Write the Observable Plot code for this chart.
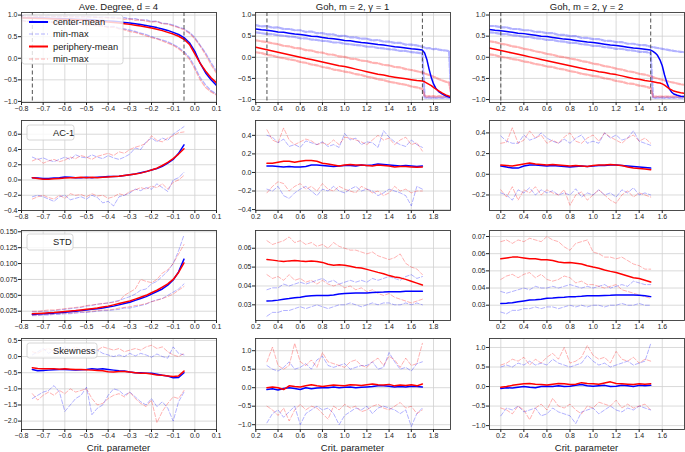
<!DOCTYPE html>
<html><head><meta charset="utf-8">
<script src="https://cdn.jsdelivr.net/npm/d3@7"></script>
<script src="https://cdn.jsdelivr.net/npm/@observablehq/plot@0.6"></script>
<style>
body{margin:0;background:#fff;}
#c{position:relative;width:685px;height:452px;overflow:hidden;font-family:"Liberation Sans",Arial,sans-serif;background:#fff;}
.t{position:absolute;font-size:9.5px;color:#1a1a1a;white-space:nowrap;transform:translate(-50%,-50%);}
.p{position:absolute;}
</style></head><body><div id="c"></div>
<script>
// ---------- titles / labels ----------
const titles = ["Ave. Degree, d = 4", "Goh, m = 2, \u03b3 = 1", "Goh, m = 2, \u03b3 = 2"];
const xLabel = "Crit. parameter";
const rowLegends = [null, "AC-1", "STD", "Skewness"];
const legendLabels = ["center-mean", "min-max", "periphery-mean", "min-max"];

// ---------- x grids ----------
const X_AD_FULL = [-0.8,-0.775,-0.75,-0.725,-0.7,-0.675,-0.65,-0.625,-0.6,-0.575,-0.55,-0.525,-0.5,-0.475,-0.45,-0.425,-0.4,-0.375,-0.35,-0.325,-0.3,-0.275,-0.25,-0.225,-0.2,-0.175,-0.15,-0.125,-0.1,-0.075,-0.05,-0.025,0,0.025,0.05,0.075,0.1];
const X_AD = [-0.75,-0.725,-0.7,-0.675,-0.65,-0.625,-0.6,-0.575,-0.55,-0.525,-0.5,-0.475,-0.45,-0.425,-0.4,-0.375,-0.35,-0.325,-0.3,-0.275,-0.25,-0.225,-0.2,-0.175,-0.15,-0.125,-0.1,-0.075,-0.05];
const X_G1_FULL = [0.2,0.25,0.3,0.35,0.4,0.45,0.5,0.55,0.6,0.65,0.7,0.75,0.8,0.85,0.9,0.95,1.0,1.05,1.1,1.15,1.2,1.25,1.3,1.35,1.4,1.45,1.5,1.55,1.6,1.65,1.7,1.72,1.74,1.76,1.78,1.8,1.82,1.85,1.88,1.91,1.94,1.96];
const X_G1 = [0.3,0.35,0.4,0.45,0.5,0.55,0.6,0.65,0.7,0.75,0.8,0.85,0.9,0.95,1.0,1.05,1.1,1.15,1.2,1.25,1.3,1.35,1.4,1.45,1.5,1.55,1.6,1.65,1.7];
const X_G2_FULL = [0.1,0.15,0.2,0.25,0.3,0.35,0.4,0.45,0.5,0.55,0.6,0.65,0.7,0.75,0.8,0.85,0.9,0.95,1.0,1.05,1.1,1.15,1.2,1.25,1.3,1.35,1.4,1.45,1.5,1.52,1.54,1.56,1.58,1.6,1.62,1.64,1.66,1.68,1.7,1.73,1.76,1.79];
const X_G2 = [0.2,0.25,0.3,0.35,0.4,0.45,0.5,0.55,0.6,0.65,0.7,0.75,0.8,0.85,0.9,0.95,1.0,1.05,1.1,1.15,1.2,1.25,1.3,1.35,1.4,1.45,1.5];

// ---------- Row 1: order parameter ----------
const AD_cMean = [0.94,0.94,0.935,0.93,0.93,0.925,0.92,0.92,0.915,0.91,0.905,0.9,0.895,0.89,0.88,0.875,0.865,0.855,0.845,0.83,0.815,0.8,0.78,0.76,0.735,0.71,0.68,0.645,0.6,0.55,0.48,0.36,0.16,-0.12,-0.34,-0.5,-0.63];
const AD_pMean = [0.93,0.93,0.925,0.92,0.92,0.915,0.91,0.905,0.9,0.895,0.89,0.885,0.88,0.87,0.86,0.85,0.84,0.83,0.815,0.8,0.785,0.765,0.745,0.725,0.7,0.67,0.64,0.6,0.56,0.51,0.44,0.32,0.1,-0.12,-0.3,-0.45,-0.57];
const AD_cMax = [0.99,0.98,0.99,0.97,0.98,0.99,0.97,0.98,0.97,0.98,0.96,0.97,0.96,0.97,0.95,0.96,0.94,0.95,0.93,0.94,0.91,0.92,0.88,0.89,0.85,0.86,0.81,0.8,0.77,0.72,0.68,0.6,0.48,0.3,0.12,-0.1,-0.3];
const AD_pMax = [0.97,0.98,0.96,0.97,0.98,0.96,0.97,0.96,0.97,0.95,0.96,0.95,0.96,0.94,0.95,0.93,0.94,0.92,0.93,0.9,0.91,0.88,0.89,0.86,0.84,0.85,0.8,0.79,0.75,0.71,0.66,0.58,0.45,0.28,0.08,-0.15,-0.35];
const AD_cMin = [0.88,0.86,0.87,0.85,0.86,0.84,0.85,0.83,0.84,0.82,0.8,0.81,0.79,0.77,0.78,0.75,0.73,0.74,0.7,0.68,0.65,0.62,0.58,0.55,0.5,0.46,0.42,0.38,0.32,0.25,0.15,0.02,-0.2,-0.45,-0.62,-0.75,-0.83];
const AD_pMin = [0.87,0.85,0.86,0.84,0.83,0.85,0.82,0.83,0.81,0.8,0.81,0.78,0.77,0.78,0.74,0.75,0.71,0.72,0.68,0.66,0.62,0.6,0.56,0.52,0.48,0.45,0.4,0.35,0.3,0.22,0.12,-0.02,-0.25,-0.5,-0.68,-0.78,-0.85];

const G1_cMean = [0.67,0.65,0.64,0.62,0.6,0.59,0.57,0.55,0.54,0.52,0.5,0.49,0.47,0.45,0.44,0.42,0.4,0.39,0.37,0.35,0.34,0.32,0.3,0.29,0.27,0.25,0.24,0.22,0.2,0.19,0.17,0.1,-0.05,-0.28,-0.48,-0.63,-0.73,-0.82,-0.87,-0.91,-0.94,-0.96];
const G1_pMean = [0.24,0.21,0.18,0.15,0.12,0.09,0.06,0.03,0.0,-0.03,-0.05,-0.08,-0.11,-0.14,-0.17,-0.2,-0.22,-0.25,-0.28,-0.31,-0.34,-0.37,-0.4,-0.42,-0.45,-0.47,-0.49,-0.51,-0.53,-0.55,-0.56,-0.58,-0.61,-0.64,-0.67,-0.71,-0.75,-0.8,-0.85,-0.89,-0.92,-0.94];
const G1_cMax = [0.76,0.73,0.74,0.7,0.71,0.67,0.67,0.64,0.64,0.6,0.61,0.57,0.57,0.54,0.54,0.5,0.51,0.47,0.47,0.44,0.44,0.4,0.41,0.37,0.37,0.34,0.34,0.3,0.3,0.28,0.25,0.23,0.21,0.22,0.2,0.19,0.2,0.18,0.17,0.16,0.15,-0.97];
const G1_cMin = [0.59,0.57,0.55,0.55,0.52,0.51,0.49,0.48,0.45,0.45,0.42,0.41,0.39,0.38,0.35,0.35,0.32,0.31,0.29,0.28,0.25,0.25,0.22,0.21,0.19,0.18,0.15,0.15,0.12,0.11,0.09,-0.95,-0.96,-0.95,-0.96,-0.95,-0.96,-0.95,-0.96,-0.95,-0.96,-0.96];
const G1_pMax = [0.4,0.38,0.36,0.33,0.31,0.27,0.26,0.22,0.21,0.17,0.16,0.12,0.11,0.07,0.06,0.02,0.01,-0.03,-0.04,-0.08,-0.09,-0.13,-0.14,-0.18,-0.19,-0.23,-0.24,-0.28,-0.3,-0.33,-0.36,-0.38,-0.4,-0.42,-0.44,-0.46,-0.48,-0.52,-0.55,-0.58,-0.6,-0.88];
const G1_pMin = [0.12,0.1,0.06,0.04,0.0,-0.02,-0.05,-0.07,-0.11,-0.13,-0.17,-0.19,-0.23,-0.25,-0.29,-0.31,-0.34,-0.36,-0.4,-0.42,-0.46,-0.48,-0.52,-0.54,-0.58,-0.6,-0.63,-0.65,-0.69,-0.71,-0.75,-0.92,-0.93,-0.92,-0.93,-0.92,-0.93,-0.92,-0.93,-0.92,-0.93,-0.93];

const G2_cMean = [0.66,0.64,0.63,0.61,0.59,0.57,0.56,0.54,0.52,0.5,0.49,0.47,0.45,0.43,0.42,0.4,0.38,0.36,0.35,0.33,0.31,0.29,0.28,0.26,0.24,0.22,0.21,0.19,0.17,0.14,0.1,0.04,-0.06,-0.2,-0.42,-0.6,-0.74,-0.82,-0.87,-0.9,-0.92,-0.93];
const G2_pMean = [0.22,0.19,0.16,0.13,0.1,0.07,0.04,0.01,-0.02,-0.05,-0.08,-0.11,-0.14,-0.17,-0.2,-0.23,-0.26,-0.29,-0.31,-0.34,-0.36,-0.39,-0.41,-0.44,-0.47,-0.5,-0.52,-0.55,-0.57,-0.58,-0.59,-0.6,-0.61,-0.63,-0.66,-0.7,-0.74,-0.77,-0.8,-0.82,-0.84,-0.85];
const G2_cMax = [0.74,0.74,0.71,0.71,0.67,0.67,0.64,0.64,0.6,0.6,0.57,0.57,0.53,0.53,0.5,0.5,0.46,0.46,0.43,0.43,0.39,0.39,0.36,0.36,0.32,0.32,0.29,0.29,0.25,0.24,0.23,0.22,0.21,0.2,0.19,0.18,0.17,0.16,0.15,0.14,0.13,0.12];
const G2_cMin = [0.59,0.58,0.55,0.55,0.52,0.51,0.48,0.48,0.45,0.44,0.41,0.41,0.38,0.37,0.34,0.34,0.31,0.3,0.27,0.27,0.24,0.23,0.2,0.2,0.17,0.16,0.13,0.13,0.1,-0.95,-0.96,-0.95,-0.96,-0.95,-0.96,-0.95,-0.96,-0.95,-0.96,-0.95,-0.96,-0.96];
const G2_pMax = [0.38,0.36,0.32,0.3,0.26,0.24,0.2,0.18,0.14,0.12,0.08,0.06,0.02,0.0,-0.03,-0.05,-0.09,-0.11,-0.15,-0.17,-0.21,-0.23,-0.27,-0.29,-0.33,-0.35,-0.39,-0.41,-0.45,-0.47,-0.49,-0.5,-0.52,-0.53,-0.55,-0.56,-0.58,-0.59,-0.6,-0.62,-0.64,-0.65];
const G2_pMin = [0.07,0.05,0.01,-0.01,-0.04,-0.06,-0.1,-0.12,-0.16,-0.18,-0.22,-0.23,-0.27,-0.29,-0.33,-0.35,-0.39,-0.41,-0.44,-0.46,-0.5,-0.52,-0.56,-0.58,-0.62,-0.63,-0.67,-0.69,-0.73,-0.93,-0.93,-0.93,-0.93,-0.93,-0.93,-0.93,-0.93,-0.93,-0.93,-0.93,-0.93,-0.93];

// ---------- Row 2: AC-1 ----------
const AC_AD_cMean = [0.03,0.025,0.02,0.02,0.025,0.03,0.04,0.035,0.03,0.03,0.035,0.03,0.035,0.04,0.045,0.045,0.05,0.06,0.07,0.08,0.095,0.11,0.13,0.15,0.18,0.22,0.27,0.35,0.46];
const AC_AD_pMean = [0.03,0.02,0.01,0.01,0.015,0.02,0.025,0.03,0.03,0.035,0.03,0.035,0.03,0.035,0.04,0.045,0.05,0.06,0.07,0.08,0.09,0.11,0.13,0.155,0.19,0.23,0.28,0.34,0.41];
const AC_AD_cMax = [0.3,0.27,0.29,0.26,0.24,0.27,0.3,0.27,0.33,0.3,0.29,0.33,0.3,0.28,0.32,0.29,0.27,0.3,0.34,0.42,0.4,0.5,0.55,0.5,0.55,0.52,0.6,0.65,0.7];
const AC_AD_pMax = [0.25,0.28,0.22,0.25,0.27,0.24,0.26,0.3,0.28,0.32,0.3,0.27,0.31,0.33,0.35,0.32,0.37,0.35,0.4,0.43,0.45,0.48,0.58,0.52,0.5,0.55,0.58,0.62,0.63];
const AC_AD_cMin = [-0.22,-0.2,-0.22,-0.25,-0.28,-0.22,-0.2,-0.26,-0.24,-0.22,-0.25,-0.2,-0.23,-0.3,-0.28,-0.34,-0.22,-0.2,-0.17,-0.12,-0.14,-0.1,-0.12,-0.05,-0.1,-0.15,0.0,0.03,0.1];
const AC_AD_pMin = [-0.25,-0.22,-0.2,-0.23,-0.25,-0.2,-0.24,-0.18,-0.2,-0.19,-0.22,-0.18,-0.21,-0.2,-0.24,-0.22,-0.18,-0.2,-0.15,-0.13,-0.1,-0.12,-0.08,-0.1,-0.05,-0.12,-0.03,0.0,0.06];

const AC_G1_cMean = [0.07,0.07,0.065,0.06,0.065,0.06,0.06,0.065,0.08,0.08,0.075,0.07,0.065,0.07,0.075,0.075,0.07,0.08,0.075,0.08,0.09,0.085,0.08,0.075,0.07,0.075,0.07,0.065,0.07];
const AC_G1_pMean = [0.1,0.1,0.11,0.12,0.12,0.11,0.12,0.13,0.13,0.12,0.1,0.09,0.08,0.07,0.08,0.085,0.08,0.08,0.075,0.07,0.08,0.075,0.07,0.06,0.065,0.065,0.06,0.055,0.06];
const AC_G1_cMax = [0.4,0.38,0.32,0.36,0.28,0.3,0.27,0.34,0.32,0.3,0.33,0.28,0.3,0.27,0.42,0.35,0.37,0.3,0.33,0.32,0.27,0.45,0.38,0.33,0.3,0.28,0.35,0.3,0.27];
const AC_G1_pMax = [0.46,0.35,0.32,0.48,0.35,0.3,0.33,0.36,0.34,0.3,0.32,0.3,0.35,0.3,0.38,0.37,0.35,0.33,0.3,0.35,0.4,0.35,0.37,0.3,0.35,0.38,0.3,0.32,0.23];
const AC_G1_cMin = [-0.18,-0.2,-0.15,-0.25,-0.28,-0.22,-0.18,-0.15,-0.2,-0.25,-0.18,-0.2,-0.15,-0.2,-0.22,-0.18,-0.15,-0.2,-0.18,-0.2,-0.25,-0.22,-0.18,-0.2,-0.22,-0.25,-0.36,-0.15,-0.18];
const AC_G1_pMin = [-0.22,-0.15,-0.1,-0.12,-0.2,-0.15,-0.12,-0.18,-0.15,-0.2,-0.12,-0.18,-0.2,-0.15,-0.18,-0.2,-0.22,-0.15,-0.18,-0.22,-0.2,-0.25,-0.22,-0.15,-0.2,-0.18,-0.22,-0.2,-0.2];

const AC_G2_cMean = [0.08,0.07,0.06,0.06,0.08,0.09,0.09,0.085,0.08,0.085,0.08,0.075,0.07,0.075,0.08,0.075,0.08,0.085,0.085,0.09,0.09,0.085,0.08,0.075,0.07,0.065,0.06];
const AC_G2_pMean = [0.09,0.085,0.08,0.09,0.1,0.11,0.1,0.095,0.09,0.095,0.09,0.085,0.08,0.085,0.08,0.075,0.085,0.09,0.09,0.095,0.09,0.085,0.07,0.06,0.055,0.05,0.045];
const AC_G2_cMax = [0.37,0.32,0.3,0.3,0.38,0.33,0.35,0.4,0.35,0.32,0.3,0.34,0.3,0.35,0.38,0.3,0.32,0.3,0.4,0.35,0.38,0.33,0.35,0.42,0.32,0.3,0.28];
const AC_G2_pMax = [0.3,0.31,0.45,0.3,0.33,0.42,0.35,0.38,0.3,0.33,0.3,0.36,0.4,0.32,0.3,0.35,0.38,0.32,0.4,0.36,0.33,0.3,0.35,0.38,0.32,0.35,0.3];
const AC_G2_cMin = [-0.18,-0.2,-0.25,-0.15,-0.18,-0.13,-0.2,-0.15,-0.18,-0.16,-0.2,-0.18,-0.2,-0.14,-0.22,-0.18,-0.2,-0.15,-0.2,-0.18,-0.22,-0.15,-0.18,-0.13,-0.2,-0.18,-0.2];
const AC_G2_pMin = [-0.15,-0.22,-0.12,-0.25,-0.15,-0.18,-0.12,-0.2,-0.15,-0.18,-0.2,-0.15,-0.3,-0.2,-0.17,-0.25,-0.2,-0.15,-0.2,-0.25,-0.28,-0.2,-0.16,-0.22,-0.18,-0.2,-0.22];

// ---------- Row 3: STD ----------
const SD_AD_cMean = [0.020,0.0205,0.021,0.0215,0.022,0.0227,0.0235,0.0242,0.025,0.026,0.027,0.028,0.029,0.030,0.0315,0.033,0.035,0.037,0.039,0.042,0.045,0.048,0.052,0.056,0.060,0.066,0.074,0.087,0.107];
const SD_AD_pMean = [0.021,0.0215,0.022,0.0225,0.023,0.0237,0.0245,0.0252,0.026,0.027,0.028,0.029,0.030,0.0315,0.033,0.035,0.037,0.039,0.041,0.044,0.047,0.050,0.054,0.058,0.063,0.068,0.075,0.086,0.101];
const SD_AD_cMax = [0.024,0.024,0.025,0.025,0.026,0.027,0.028,0.029,0.03,0.031,0.033,0.034,0.036,0.037,0.038,0.04,0.042,0.045,0.048,0.052,0.058,0.06,0.068,0.072,0.08,0.088,0.1,0.12,0.145];
const SD_AD_pMax = [0.025,0.025,0.026,0.027,0.027,0.028,0.029,0.03,0.031,0.032,0.034,0.035,0.036,0.037,0.038,0.039,0.041,0.05,0.055,0.06,0.075,0.072,0.07,0.075,0.085,0.09,0.1,0.115,0.13];
const SD_AD_cMin = [0.018,0.018,0.019,0.019,0.02,0.02,0.021,0.021,0.022,0.023,0.023,0.024,0.025,0.026,0.026,0.027,0.028,0.03,0.03,0.032,0.034,0.036,0.04,0.043,0.045,0.05,0.055,0.06,0.068];
const SD_AD_pMin = [0.019,0.019,0.02,0.02,0.021,0.021,0.022,0.022,0.023,0.024,0.024,0.025,0.026,0.027,0.027,0.028,0.03,0.031,0.032,0.034,0.035,0.037,0.04,0.042,0.045,0.048,0.052,0.058,0.064];

const SD_G1_cMean = [0.032,0.0322,0.0325,0.033,0.0333,0.0337,0.034,0.0345,0.0348,0.035,0.035,0.035,0.0352,0.0357,0.036,0.0362,0.0363,0.0363,0.0363,0.0365,0.0367,0.0368,0.037,0.037,0.037,0.0372,0.0372,0.0372,0.0372];
const SD_G1_pMean = [0.054,0.0537,0.0533,0.053,0.0533,0.0535,0.0532,0.053,0.0532,0.053,0.0525,0.0515,0.051,0.0512,0.051,0.0505,0.0498,0.0495,0.0488,0.048,0.0472,0.0465,0.0455,0.0448,0.0443,0.0435,0.0425,0.0415,0.0405];
const SD_G1_cMax = [0.038,0.039,0.039,0.041,0.04,0.041,0.042,0.041,0.042,0.043,0.044,0.042,0.043,0.041,0.042,0.043,0.042,0.043,0.042,0.044,0.043,0.044,0.045,0.044,0.043,0.045,0.046,0.044,0.045];
const SD_G1_pMax = [0.064,0.062,0.063,0.064,0.066,0.063,0.064,0.062,0.063,0.061,0.062,0.06,0.063,0.061,0.06,0.059,0.059,0.058,0.057,0.058,0.056,0.055,0.054,0.055,0.057,0.052,0.05,0.049,0.046];
const SD_G1_cMin = [0.024,0.026,0.026,0.027,0.027,0.028,0.029,0.028,0.029,0.03,0.029,0.028,0.029,0.03,0.03,0.031,0.03,0.029,0.03,0.031,0.03,0.031,0.031,0.03,0.03,0.031,0.03,0.031,0.03];
const SD_G1_pMin = [0.046,0.044,0.045,0.043,0.046,0.043,0.044,0.042,0.043,0.041,0.043,0.041,0.04,0.041,0.039,0.04,0.038,0.039,0.037,0.038,0.036,0.035,0.036,0.034,0.033,0.032,0.031,0.032,0.033];

const SD_G2_cMean = [0.031,0.0312,0.0315,0.032,0.0325,0.033,0.0332,0.0335,0.034,0.0342,0.0345,0.0347,0.035,0.035,0.0352,0.0355,0.0355,0.0355,0.0357,0.0358,0.036,0.036,0.036,0.036,0.0358,0.0355,0.035];
const SD_G2_pMean = [0.057,0.0575,0.058,0.058,0.0575,0.057,0.057,0.0565,0.0565,0.056,0.0552,0.0547,0.0548,0.0545,0.054,0.053,0.0522,0.0515,0.0505,0.0497,0.049,0.048,0.047,0.046,0.0455,0.0445,0.0435];
const SD_G2_cMax = [0.038,0.037,0.038,0.039,0.04,0.039,0.041,0.04,0.04,0.041,0.04,0.041,0.042,0.041,0.04,0.041,0.04,0.041,0.042,0.04,0.041,0.042,0.041,0.044,0.043,0.042,0.042];
const SD_G2_pMax = [0.067,0.068,0.066,0.068,0.067,0.069,0.068,0.067,0.07,0.068,0.067,0.064,0.062,0.066,0.067,0.068,0.061,0.06,0.058,0.058,0.057,0.058,0.056,0.054,0.053,0.051,0.051];
const SD_G2_cMin = [0.026,0.025,0.027,0.027,0.028,0.028,0.029,0.028,0.029,0.029,0.028,0.029,0.03,0.029,0.03,0.029,0.03,0.03,0.029,0.03,0.03,0.031,0.03,0.03,0.031,0.03,0.03];
const SD_G2_pMin = [0.045,0.047,0.048,0.046,0.048,0.049,0.046,0.048,0.045,0.044,0.045,0.047,0.046,0.043,0.044,0.042,0.042,0.041,0.04,0.041,0.042,0.039,0.038,0.037,0.036,0.035,0.034];

// ---------- Row 4: Skewness ----------
const SK_AD_cMean = [-0.4,-0.44,-0.43,-0.42,-0.41,-0.4,-0.4,-0.41,-0.42,-0.41,-0.4,-0.38,-0.39,-0.38,-0.4,-0.42,-0.44,-0.45,-0.48,-0.5,-0.5,-0.52,-0.52,-0.55,-0.58,-0.6,-0.66,-0.65,-0.5];
const SK_AD_pMean = [-0.35,-0.37,-0.38,-0.38,-0.38,-0.39,-0.38,-0.39,-0.4,-0.4,-0.41,-0.42,-0.43,-0.44,-0.47,-0.48,-0.46,-0.46,-0.48,-0.5,-0.52,-0.52,-0.54,-0.57,-0.58,-0.6,-0.62,-0.6,-0.45];
const SK_AD_cMax = [0.05,0.15,0.25,0.1,0.2,0.15,0.3,0.2,0.15,0.2,0.1,0.15,0.2,0.1,0.05,0.0,0.05,0.0,0.1,0.02,0.1,0.05,-0.02,0.08,0.0,-0.05,0.3,0.1,0.05];
const SK_AD_pMax = [0.15,0.1,0.2,0.25,0.15,0.2,0.25,0.2,0.3,0.2,0.25,0.15,0.2,0.3,0.25,0.2,0.25,0.15,0.2,0.25,0.2,0.3,0.35,0.25,0.3,0.15,0.05,0.0,0.1];
const SK_AD_cMin = [-1.3,-1.2,-1.1,-1.05,-0.9,-1.1,-1.7,-1.5,-1.3,-1.2,-0.95,-1.8,-1.6,-1.5,-1.2,-1.0,-1.05,-1.2,-1.1,-1.25,-1.4,-1.5,-1.3,-1.55,-1.4,-1.6,-2.0,-1.4,-1.1];
const SK_AD_pMin = [-1.15,-1.35,-1.2,-1.1,-1.2,-1.05,-1.15,-1.0,-1.1,-1.05,-1.0,-1.3,-1.5,-1.45,-1.3,-1.2,-1.15,-1.25,-1.1,-1.3,-1.45,-1.55,-1.35,-2.05,-1.7,-1.45,-1.25,-1.3,-1.05];

const SK_G1_cMean = [-0.05,-0.03,-0.06,-0.02,0.0,-0.02,-0.05,0.0,-0.03,-0.01,0.0,0.0,0.02,0.0,0.01,0.02,0.0,0.01,0.02,0.03,0.05,0.05,0.04,0.02,0.03,0.02,0.04,0.03,0.02];
const SK_G1_pMean = [0.0,0.02,0.0,-0.05,0.05,0.03,0.02,0.05,0.08,0.05,0.03,0.05,0.07,0.06,0.05,0.08,0.07,0.06,0.08,0.1,0.08,0.07,0.09,0.05,0.07,0.06,0.08,0.05,0.1];
const SK_G1_cMax = [0.6,0.5,0.45,0.55,0.7,0.5,0.55,0.65,0.5,0.75,0.85,0.6,0.55,0.6,0.65,0.5,0.55,0.6,0.6,0.7,0.5,0.55,0.95,0.7,0.5,0.55,0.45,0.65,0.7];
const SK_G1_pMax = [0.7,1.1,0.6,0.5,0.6,1.2,0.7,0.6,0.75,0.55,0.95,0.7,0.65,0.6,0.55,0.7,0.75,0.6,0.55,0.7,0.8,0.6,0.85,0.75,0.55,0.8,0.6,0.65,1.2];
const SK_G1_cMin = [-0.95,-0.7,-0.6,-0.8,-0.65,-0.5,-1.0,-0.7,-0.6,-0.5,-0.6,-0.55,-0.7,-1.0,-0.75,-0.65,-0.55,-0.6,-0.5,-0.7,-0.55,-0.5,-0.55,-0.6,-0.7,-0.6,-1.05,-0.7,-0.55];
const SK_G1_pMin = [-0.5,-0.6,-0.75,-0.55,-0.9,-0.6,-0.45,-0.6,-0.5,-0.55,-0.7,-0.85,-0.5,-0.6,-0.45,-0.55,-0.5,-0.65,-0.6,-0.5,-0.45,-0.55,-0.6,-0.5,-0.4,-0.55,-0.5,-0.7,-0.6];

const SK_G2_cMean = [-0.05,-0.03,-0.04,-0.02,0.0,-0.02,-0.03,0.0,0.01,0.0,0.02,0.0,0.01,0.03,0.05,0.02,0.01,0.02,0.03,0.0,0.01,0.03,0.02,0.0,0.03,0.02,0.03];
const SK_G2_pMean = [-0.02,0.0,0.03,0.05,0.07,0.08,0.06,0.05,0.04,0.06,0.08,0.07,0.05,0.06,0.1,0.08,0.07,0.06,0.09,0.12,0.08,0.07,0.06,0.05,0.07,0.06,0.07];
const SK_G2_cMax = [0.5,0.55,0.5,0.6,0.55,0.65,0.55,0.6,0.55,0.7,0.6,0.55,0.5,0.55,0.6,0.8,0.65,0.55,0.6,0.5,0.55,0.6,0.65,0.55,0.6,0.65,1.1];
const SK_G2_pMax = [0.55,0.6,0.7,0.65,0.75,0.55,0.7,0.6,0.75,0.85,0.7,1.0,0.6,0.65,0.75,1.05,0.8,0.7,0.75,0.6,0.9,0.7,0.65,0.75,0.6,0.7,0.65];
const SK_G2_cMin = [-0.75,-0.55,-0.6,-0.5,-0.65,-0.6,-0.55,-0.75,-0.7,-0.55,-0.65,-0.7,-0.75,-0.95,-0.65,-0.6,-0.55,-0.7,-0.6,-0.5,-0.6,-0.65,-0.55,-0.6,-0.5,-0.55,-0.6];
const SK_G2_pMin = [-0.55,-0.6,-0.7,-0.5,-0.6,-0.85,-0.55,-0.45,-0.6,-0.3,-0.5,-0.55,-0.45,-0.6,-0.7,-0.5,-0.55,-0.4,-0.45,-0.5,-0.35,-0.55,-0.45,-0.55,-0.5,-0.45,-0.6];

// ---------- ticks ----------
const XT_AD = [-0.8,-0.7,-0.6,-0.5,-0.4,-0.3,-0.2,-0.1,0.0,0.1];
const XT_G1 = [0.2,0.4,0.6,0.8,1.0,1.2,1.4,1.6,1.8];
const XT_G2 = [0.2,0.4,0.6,0.8,1.0,1.2,1.4,1.6];
const YT_OP = [-1.0,-0.5,0.0,0.5,1.0];
const YT_AC = [[-0.4,-0.2,0.0,0.2,0.4,0.6],[-0.4,-0.2,0.0,0.2,0.4],[-0.2,0.0,0.2,0.4]];
const YT_SD = [[0.025,0.05,0.075,0.1,0.125,0.15],[0.03,0.04,0.05,0.06],[0.03,0.04,0.05,0.06,0.07]];
const YT_SK = [[-2.0,-1.5,-1.0,-0.5,0.0,0.5],[-1.0,-0.5,0.0,0.5,1.0],[-1.0,-0.5,0.0,0.5,1.0]];
const VLINES = [[-0.75,-0.05],[0.3,1.7],[0.2,1.5]];

// ---------- layout (frames in page px) ----------
const COLS = [[21,216],[255,450],[489,684]];
const ROWS = [[12,102],[120,210],[230,320],[338,429]];
const XD = [[-0.8,0.1],[0.197,1.953],[0.102,1.793]];
const YD = [
  [[-1.025,1.06],[-1.07,1.06],[-1.07,1.06]],
  [[-0.4,0.78],[-0.41,0.56],[-0.35,0.52]],
  [[0.0104,0.152],[0.0217,0.0694],[0.0211,0.0735]],
  [[-2.26,0.56],[-1.13,1.33],[-1.10,1.23]]
];

const f1 = d3.format(".1f"), f2 = d3.format(".2f"), f3 = d3.format(".3f");
const BLUE="#0000ff", RED="#ff0000";

const P = [
  [
    {x:X_AD_FULL, s:[AD_cMean,AD_cMax,AD_cMin,AD_pMean,AD_pMax,AD_pMin], yt:YT_OP, yf:f1, bw:1.3},
    {x:X_G1_FULL, s:[G1_cMean,G1_cMax,G1_cMin,G1_pMean,G1_pMax,G1_pMin], yt:YT_OP, yf:f1, bw:2.2},
    {x:X_G2_FULL, s:[G2_cMean,G2_cMax,G2_cMin,G2_pMean,G2_pMax,G2_pMin], yt:YT_OP, yf:f1, bw:2.2}
  ],
  [
    {x:X_AD, s:[AC_AD_cMean,AC_AD_cMax,AC_AD_cMin,AC_AD_pMean,AC_AD_pMax,AC_AD_pMin], yt:YT_AC[0], yf:f1, bw:1},
    {x:X_G1, s:[AC_G1_cMean,AC_G1_cMax,AC_G1_cMin,AC_G1_pMean,AC_G1_pMax,AC_G1_pMin], yt:YT_AC[1], yf:f1, bw:1},
    {x:X_G2, s:[AC_G2_cMean,AC_G2_cMax,AC_G2_cMin,AC_G2_pMean,AC_G2_pMax,AC_G2_pMin], yt:YT_AC[2], yf:f1, bw:1}
  ],
  [
    {x:X_AD, s:[SD_AD_cMean,SD_AD_cMax,SD_AD_cMin,SD_AD_pMean,SD_AD_pMax,SD_AD_pMin], yt:YT_SD[0], yf:f3, bw:1},
    {x:X_G1, s:[SD_G1_cMean,SD_G1_cMax,SD_G1_cMin,SD_G1_pMean,SD_G1_pMax,SD_G1_pMin], yt:YT_SD[1], yf:f2, bw:1},
    {x:X_G2, s:[SD_G2_cMean,SD_G2_cMax,SD_G2_cMin,SD_G2_pMean,SD_G2_pMax,SD_G2_pMin], yt:YT_SD[2], yf:f2, bw:1}
  ],
  [
    {x:X_AD, s:[SK_AD_cMean,SK_AD_cMax,SK_AD_cMin,SK_AD_pMean,SK_AD_pMax,SK_AD_pMin], yt:YT_SK[0], yf:f1, bw:1},
    {x:X_G1, s:[SK_G1_cMean,SK_G1_cMax,SK_G1_cMin,SK_G1_pMean,SK_G1_pMax,SK_G1_pMin], yt:YT_SK[1], yf:f1, bw:1},
    {x:X_G2, s:[SK_G2_cMean,SK_G2_cMax,SK_G2_cMin,SK_G2_pMean,SK_G2_pMax,SK_G2_pMin], yt:YT_SK[2], yf:f1, bw:1}
  ]
];
const XT = [XT_AD, XT_G1, XT_G2];

const C = document.getElementById("c");
const ML=40, MR=1, MT=2, MB=14;
const FONT = "Liberation Sans, Arial, sans-serif";

function lineMark(xs, ys, o){
  return Plot.line(ys, Object.assign({x:(d,i)=>xs[i], y:d=>d, clip:true, strokeLinejoin:"round"}, o));
}

for (let r=0;r<4;r++) for (let c=0;c<3;c++){
  const p = P[r][c];
  const [x0,x1] = COLS[c], [y0,y1] = ROWS[r];
  const w = x1-x0, h = y1-y0;
  const [cMean,cMax,cMin,pMean,pMax,pMin] = p.s;
  const band = {strokeWidth:p.bw, strokeOpacity:0.3, strokeDasharray:"4,2"};
  const marks = [
    Plot.gridX({ticks:XT[c], stroke:"#d0d0d0", strokeOpacity:1, strokeWidth:0.8}),
    Plot.gridY({ticks:p.yt, stroke:"#d0d0d0", strokeOpacity:1, strokeWidth:0.8}),
    lineMark(p.x, cMax, Object.assign({stroke:BLUE}, band)),
    lineMark(p.x, cMin, Object.assign({stroke:BLUE}, band)),
    lineMark(p.x, pMax, Object.assign({stroke:RED}, band)),
    lineMark(p.x, pMin, Object.assign({stroke:RED}, band)),
    lineMark(p.x, cMean, {stroke:BLUE, strokeWidth:1.5}),
    lineMark(p.x, pMean, {stroke:RED, strokeWidth:1.5}),
  ];
  if (r===0) marks.push(Plot.ruleX(VLINES[c], {stroke:"#333", strokeWidth:1, strokeDasharray:"4,2.5", strokeOpacity:0.85}));
  marks.push(
    Plot.frame({stroke:"#3a3a3a", strokeWidth:0.9}),
    Plot.axisX({ticks:XT[c], tickFormat:f1, tickSize:3, tickPadding:1, label:null, fontSize:7}),
    Plot.axisY({ticks:p.yt, tickFormat:p.yf, tickSize:3, tickPadding:1, label:null, fontSize:7})
  );
  const svg = Plot.plot({
    width:w+ML+MR, height:h+MT+MB,
    marginLeft:ML, marginRight:MR, marginTop:MT, marginBottom:MB,
    x:{domain:XD[c]}, y:{domain:YD[r][c]},
    style:{background:"transparent", fontFamily:FONT, fontSize:"7px", color:"#222", overflow:"visible"},
    marks
  });
  svg.classList.add("p");
  svg.style.left = (x0-ML)+"px";
  svg.style.top = (y0-MT)+"px";
  C.appendChild(svg);
}

// titles & x labels
titles.forEach((t,c)=>{
  const d = document.createElement("div"); d.className="t"; d.textContent=t;
  d.style.left = ((COLS[c][0]+COLS[c][1])/2)+"px"; d.style.top="5.5px"; C.appendChild(d);
  const e = document.createElement("div"); e.className="t"; e.textContent=xLabel; e.style.fontSize="9.5px";
  e.style.left = ((COLS[c][0]+COLS[c][1])/2)+"px"; e.style.top="446.5px"; C.appendChild(e);
});

// legends (overlay)
const ov = d3.select(C).append("svg").attr("width",685).attr("height",452)
  .style("position","absolute").style("left","0px").style("top","0px").style("pointer-events","none")
  .style("font-family",FONT);
const lg = ov.append("g");
lg.append("rect").attr("x",22).attr("y",15).attr("width",101).attr("height",49).attr("rx",2.5)
  .attr("fill","white").attr("fill-opacity",0.8).attr("stroke","#cccccc").attr("stroke-width",0.8);
const entries = [
  {y:22, c:BLUE, op:1, dash:null, w:2},
  {y:34, c:BLUE, op:0.3, dash:"4,2", w:1.2},
  {y:46.5, c:RED, op:1, dash:null, w:2},
  {y:59, c:RED, op:0.3, dash:"4,2", w:1.2}
];
entries.forEach((e,i)=>{
  lg.append("line").attr("x1",29).attr("x2",48).attr("y1",e.y).attr("y2",e.y)
    .attr("stroke",e.c).attr("stroke-opacity",e.op).attr("stroke-width",e.w).attr("stroke-dasharray",e.dash);
  lg.append("text").attr("x",53).attr("y",e.y).attr("dy","0.35em").attr("font-size",9.3).attr("fill","#1a1a1a").text(legendLabels[i]);
});
const boxes = [null, {x:27,y:125,w:47,h:15}, {x:27,y:234,w:46,h:16}, {x:27,y:343,w:70,h:15}];
rowLegends.forEach((t,r)=>{
  if (!t) return;
  const b = boxes[r];
  ov.append("rect").attr("x",b.x).attr("y",b.y).attr("width",b.w).attr("height",b.h).attr("rx",2.5)
    .attr("fill","white").attr("fill-opacity",0.8).attr("stroke","#cccccc").attr("stroke-width",0.8);
  ov.append("text").attr("x",53).attr("y",b.y+b.h/2).attr("dy","0.35em").attr("font-size",9.3).attr("fill","#1a1a1a").text(t);
});
</script></body></html>
